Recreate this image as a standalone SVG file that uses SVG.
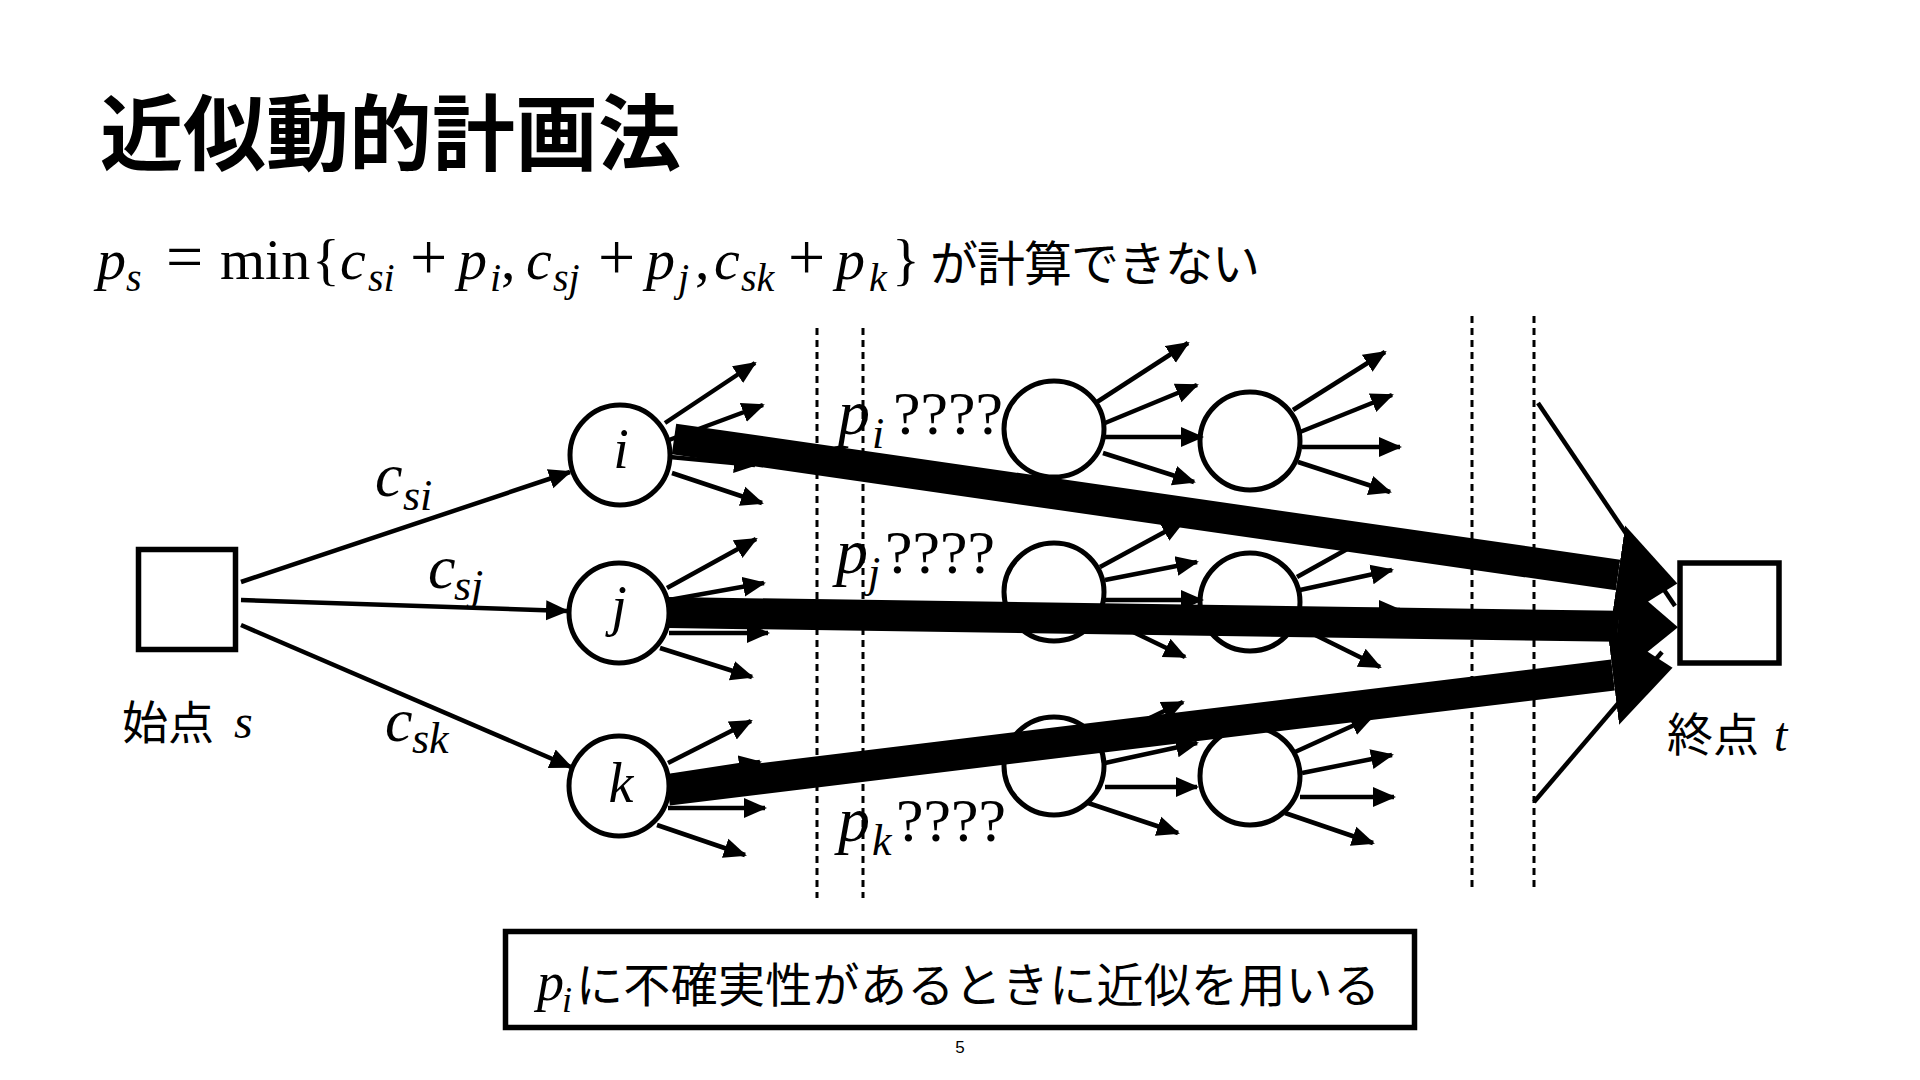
<svg xmlns="http://www.w3.org/2000/svg" width="1920" height="1080" viewBox="0 0 1920 1080">
<style>
.jp{font-family:"Noto Sans CJK JP","Noto Sans",sans-serif;}
.m{font-family:"Liberation Serif","Times New Roman",serif;font-style:italic;}
.r{font-family:"Liberation Serif","Times New Roman",serif;font-style:normal;}
.node{fill:#fff;stroke:#000;stroke-width:5;}
.sq{fill:#fff;stroke:#000;stroke-width:5.5;}
.a{stroke:#000;stroke-width:4.5;fill:none;marker-end:url(#ah);}
.thin{stroke:#000;stroke-width:4.5;fill:none;}
.thick{stroke:#000;stroke-width:31;fill:none;marker-end:url(#big);}
.dash{stroke:#000;stroke-width:3;stroke-dasharray:7 5;fill:none;}
</style>
<defs>
<marker id="ah" markerUnits="userSpaceOnUse" viewBox="0 -11 26 22" markerWidth="26" markerHeight="22" refX="21" refY="0" orient="auto">
<path d="M0,-10 L23,0 L0,10 Z" fill="#000"/>
</marker>
<marker id="big" markerUnits="userSpaceOnUse" viewBox="0 -52 62 104" markerWidth="62" markerHeight="104" refX="0" refY="0" orient="auto">
<path d="M0,-50 L60,0 L0,50 Z" fill="#000"/>
</marker>
</defs>
<rect width="1920" height="1080" fill="#fff"/>

<text id="title" class="jp" x="100" y="164" font-size="83" font-weight="700">近似動的計画法</text>

<g id="formula">
<text class="m" y="279" font-size="58"><tspan x="97">p</tspan><tspan x="126" y="291" font-size="40">s</tspan><tspan x="166" y="279" font-size="66" font-style="normal">=</tspan><tspan x="220" font-style="normal">min</tspan><tspan x="312" font-style="normal">{</tspan><tspan x="340">c</tspan><tspan x="368" y="291" font-size="40">si</tspan><tspan x="410" y="279" font-size="66" font-style="normal">+</tspan><tspan x="458">p</tspan><tspan x="490" y="291" font-size="40">i</tspan><tspan x="501" y="279" font-style="normal">,</tspan><tspan x="526">c</tspan><tspan x="553" y="291" font-size="40">sj</tspan><tspan x="598" y="279" font-size="66" font-style="normal">+</tspan><tspan x="646">p</tspan><tspan x="678" y="291" font-size="40">j</tspan><tspan x="695" y="279" font-style="normal">,</tspan><tspan x="714">c</tspan><tspan x="741" y="291" font-size="40">sk</tspan><tspan x="788" y="279" font-size="66" font-style="normal">+</tspan><tspan x="836">p</tspan><tspan x="869" y="291" font-size="40">k</tspan><tspan x="892" y="279" font-style="normal">}</tspan></text>
<text class="jp" x="930" y="281" font-size="48" textLength="330" lengthAdjust="spacing">が計算できない</text>
</g>

<g id="dashed-lines">
<line class="dash" x1="817" y1="328" x2="817" y2="898"/>
<line class="dash" x1="863" y1="328" x2="863" y2="898"/>
<line class="dash" x1="1472" y1="316" x2="1472" y2="887"/>
<line class="dash" x1="1534" y1="316" x2="1534" y2="887"/>
</g>

<g id="node-s"><rect class="sq" x="138.5" y="549.5" width="97" height="100"/></g>
<g id="node-i"><circle class="node" cx="620" cy="455" r="50"/></g>
<g id="node-j"><circle class="node" cx="619" cy="613" r="50"/></g>
<g id="node-k"><circle class="node" cx="619" cy="786" r="50"/></g>
<g id="node-a1"><ellipse class="node" cx="1054" cy="429" rx="50" ry="48"/></g>
<g id="node-a2"><ellipse class="node" cx="1250" cy="441" rx="50" ry="49"/></g>
<g id="node-b1"><ellipse class="node" cx="1054" cy="592" rx="50" ry="49"/></g>
<g id="node-b2"><ellipse class="node" cx="1250" cy="602" rx="50" ry="49"/></g>
<g id="node-c1"><ellipse class="node" cx="1054" cy="766" rx="50" ry="49"/></g>
<g id="node-c2"><ellipse class="node" cx="1250" cy="776" rx="50" ry="49"/></g>
<g id="node-t"><rect class="sq" x="1680" y="563" width="99" height="100"/></g>

<g id="connectors">
<line class="a" x1="241" y1="582" x2="570" y2="472"/>
<line class="a" x1="241" y1="600" x2="567" y2="611"/>
<line class="a" x1="241" y1="625" x2="571" y2="767"/>

<line class="a" x1="665" y1="423" x2="755" y2="363"/>
<line class="a" x1="669" y1="440" x2="763" y2="405"/>
<line class="a" x1="670" y1="457" x2="755" y2="465"/>
<line class="a" x1="672" y1="473" x2="762" y2="503"/>

<line class="a" x1="667" y1="588" x2="756" y2="539"/>
<line class="a" x1="669" y1="600" x2="764" y2="583"/>
<line class="a" x1="669" y1="633" x2="768" y2="633"/>
<line class="a" x1="660" y1="648" x2="752" y2="677"/>

<line class="a" x1="668" y1="763" x2="751" y2="721"/>
<line class="a" x1="669" y1="776" x2="760" y2="762"/>
<line class="a" x1="668" y1="808" x2="765" y2="808"/>
<line class="a" x1="657" y1="825" x2="745" y2="855"/>

<line class="a" x1="1097" y1="402" x2="1188" y2="343"/>
<line class="a" x1="1105" y1="423" x2="1197" y2="385"/>
<line class="a" x1="1105" y1="437" x2="1202" y2="437"/>
<line class="a" x1="1103" y1="453" x2="1194" y2="482"/>

<line class="a" x1="1293" y1="410" x2="1385" y2="352"/>
<line class="a" x1="1300" y1="432" x2="1392" y2="395"/>
<line class="a" x1="1302" y1="447" x2="1400" y2="447"/>
<line class="a" x1="1298" y1="462" x2="1390" y2="492"/>

<line class="a" x1="1100" y1="567" x2="1183" y2="522"/>
<line class="a" x1="1105" y1="580" x2="1197" y2="562"/>
<line class="a" x1="1105" y1="600" x2="1202" y2="600"/>
<line class="a" x1="1098" y1="615" x2="1185" y2="657"/>

<line class="a" x1="1297" y1="577" x2="1385" y2="528"/>
<line class="a" x1="1300" y1="590" x2="1392" y2="570"/>
<line class="a" x1="1302" y1="610" x2="1400" y2="610"/>
<line class="a" x1="1295" y1="625" x2="1380" y2="667"/>

<line class="a" x1="1100" y1="742" x2="1183" y2="702"/>
<line class="a" x1="1105" y1="763" x2="1197" y2="743"/>
<line class="a" x1="1105" y1="787" x2="1197" y2="787"/>
<line class="a" x1="1088" y1="803" x2="1178" y2="833"/>

<line class="a" x1="1295" y1="752" x2="1372" y2="717"/>
<line class="a" x1="1302" y1="773" x2="1392" y2="755"/>
<line class="a" x1="1300" y1="797" x2="1394" y2="797"/>
<line class="a" x1="1285" y1="813" x2="1373" y2="843"/>

<line class="thin" x1="1538" y1="403" x2="1675" y2="606"/>
<line class="thin" x1="1534" y1="802" x2="1662" y2="652"/>

<line class="thick" x1="674" y1="439" x2="1618" y2="575"/>
<line class="thick" x1="668" y1="612.5" x2="1618" y2="626.3"/>
<line class="thick" x1="668" y1="790" x2="1613" y2="675"/>
</g>

<g id="labels">
<text class="m" x="621" y="468" font-size="56" text-anchor="middle">i</text>
<text class="m" x="619" y="625" font-size="56" text-anchor="middle">j</text>
<text class="m" x="621" y="802" font-size="56" text-anchor="middle">k</text>

<text class="m" font-size="62"><tspan x="375" y="496">c</tspan><tspan x="403" y="510" font-size="44">si</tspan></text>
<text class="m" font-size="62"><tspan x="428" y="588">c</tspan><tspan x="454" y="600" font-size="44">sj</tspan></text>
<text class="m" font-size="62"><tspan x="385" y="741">c</tspan><tspan x="412" y="753" font-size="44">sk</tspan></text>

<text class="m" font-size="64"><tspan x="838" y="434">p</tspan><tspan x="872" y="448" font-size="44">i</tspan><tspan x="893" y="434" font-size="62" font-style="normal">????</tspan></text>
<text class="m" font-size="64"><tspan x="836" y="573">p</tspan><tspan x="868" y="587" font-size="44">j</tspan><tspan x="885" y="573" font-size="62" font-style="normal">????</tspan></text>
<text class="m" font-size="64"><tspan x="838" y="841">p</tspan><tspan x="872" y="855" font-size="44">k</tspan><tspan x="896" y="841" font-size="62" font-style="normal">????</tspan></text>

<text class="jp" x="122" y="739" font-size="46">始点</text>
<text class="m" x="234" y="738" font-size="48">s</text>
<text class="jp" x="1667" y="751" font-size="46">終点</text>
<text class="m" x="1774" y="751" font-size="48">t</text>
</g>

<g id="note">
<rect class="sq" x="505.5" y="931.5" width="909" height="96"/>
<text class="m" font-size="54"><tspan x="537" y="1000">p</tspan><tspan x="562" y="1012" font-size="36">i</tspan></text>
<text class="jp" x="576" y="1002" font-size="47" textLength="804" lengthAdjust="spacing">に不確実性があるときに近似を用いる</text>
</g>

<text id="page" x="960" y="1053" font-family="Liberation Sans, Arial, sans-serif" font-size="17" text-anchor="middle">5</text>
</svg>
